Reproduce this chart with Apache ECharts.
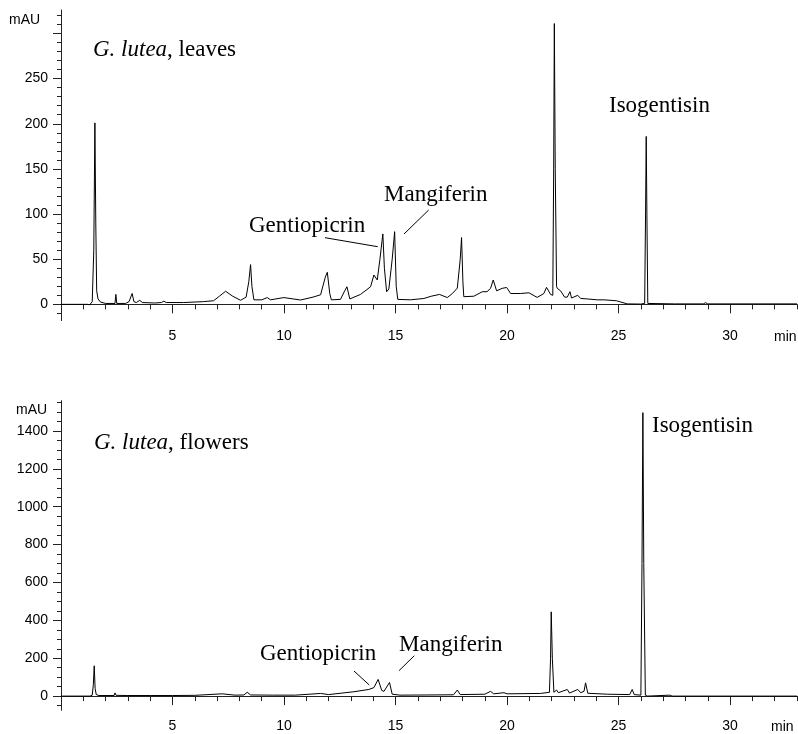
<!DOCTYPE html>
<html>
<head>
<meta charset="utf-8">
<script src="https://cdn.jsdelivr.net/npm/echarts@6/dist/echarts.min.js"></script>
<style>
html, body { margin: 0; padding: 0; background: #fff; }
#chart { width: 798px; height: 734px; }
</style>
</head>
<body>
<div id="chart"></div>
<script>
// retention time (min) and absorbance (mAU)
var leavesTime = [
    0, 1.2, 1.29, 1.40, 1.47, 1.52, 1.56, 1.60, 1.66, 1.77,
    2.0, 2.42, 2.46, 2.50, 2.9, 3.05, 3.19, 3.27, 3.38, 3.53,
    3.65, 4.2, 4.5, 4.61, 4.72, 5.5, 6.39, 6.84, 7.1, 7.38,
    7.7, 8.05, 8.3, 8.42, 8.50, 8.56, 8.65, 9.0, 9.25, 9.39,
    9.99, 10.74, 11.3, 11.64, 11.85, 11.94, 12.05, 12.12, 12.53, 12.72,
    12.82, 12.95, 13.43, 13.88, 14.03, 14.18, 14.30, 14.43, 14.50, 14.60,
    14.70, 14.85, 14.96, 15.03, 15.10, 15.67, 16.27, 16.6, 16.97, 17.32,
    17.55, 17.77, 17.90, 17.96, 18.02, 18.06, 18.51, 18.89, 19.1, 19.26,
    19.38, 19.53, 19.78, 19.98, 20.16, 20.61, 20.98, 21.35, 21.65, 21.77,
    21.95, 22.05, 22.09, 22.12, 22.16, 22.22, 22.25, 22.40, 22.58, 22.70,
    22.82, 22.89, 23.17, 23.30, 23.6, 24.04, 24.34, 24.90, 25.39, 25.99,
    26.17, 26.21, 26.24, 26.27, 26.31, 27.5, 28.8, 28.9, 29.0, 33
];
var leavesMAU = [
    0, 0, -0.5, 3, 60, 201, 90, 15, 6, 2.5,
    1, 1, 11, 1, 1, 3, 12, 3, 2, 4.5,
    2, 1.5, 2, 3.5, 2, 2, 3, 4, 9, 14.5,
    9, 4.5, 8, 25, 44, 20, 5, 5, 7.5, 5,
    7.5, 4.8, 8, 10.6, 30, 35.5, 12, 5, 5.5, 15,
    19.5, 6, 11, 19.5, 32.5, 27, 50, 78, 40, 14,
    17, 50, 80.5, 20, 5.5, 5, 6.5, 9, 11, 7.5,
    12, 18, 50, 74, 25, 8.5, 9, 14, 14, 17.7,
    27, 15, 17.7, 18.7, 12, 12, 12.8, 7.7, 12, 18.8,
    11, 10, 150, 311, 150, 20, 17.7, 15, 8, 8,
    14, 7, 10, 6.5, 6, 5, 5, 4, 0.5, 0.3,
    1, 100, 186, 100, 1, 0.5, 0.5, 1.8, 0.5, 0.5
];

var flowersTime = [
    0, 1.3, 1.40, 1.45, 1.49, 1.53, 1.58, 1.7, 2.38, 2.42,
    2.47, 3.0, 4.0, 5.0, 6.0, 7.23, 7.8, 8.2, 8.35, 8.5,
    9.5, 10.5, 11.64, 12.0, 13.13, 13.80, 14.03, 14.22, 14.38, 14.48,
    14.73, 14.85, 15.2, 16.5, 17.6, 17.77, 17.9, 19.0, 19.26, 19.4,
    19.86, 20.0, 21.5, 21.9, 21.95, 21.98, 22.03, 22.1, 22.22, 22.3,
    22.7, 22.8, 23.17, 23.3, 23.45, 23.52, 23.62, 24.5, 25.5, 25.61,
    25.7, 26.0, 26.05, 26.09, 26.13, 26.20, 26.3, 27.3, 27.4, 33
];
var flowersMAU = [
    0, 0, 5, 60, 160, 40, 8, 3, 3, 17,
    4, 3, 3, 3, 4, 12, 5, 6, 20, 6,
    5, 5, 14, 8, 23, 35, 45, 88, 30, 25,
    72, 10, 5, 6, 7, 32, 8, 10, 25, 12,
    18, 12, 14, 20, 200, 445, 200, 20, 32, 18,
    35, 16, 35, 18, 25, 70, 15, 10, 8, 35,
    8, 5, 700, 1497, 700, 5, 0, 5, 0, 0
];

// axis ticks
var timeMajor = [5, 10, 15, 20, 25, 30];
var timeMinor = [1, 2, 3, 4, 6, 7, 8, 9, 11, 12, 13, 14, 16, 17, 18, 19, 21, 22, 23, 24, 26, 27, 28, 29, 31, 32, 33];
var leavesLabels = [0, 50, 100, 150, 200, 250];
var leavesMajor = [0, 50, 100, 150, 200, 250, 300];
var flowersLabels = [0, 200, 400, 600, 800, 1000, 1200, 1400];

var leavesMinor = [];
for (var v = -10; v <= 320; v += 10) {
    if (v % 50 !== 0) leavesMinor.push(v);
}
var flowersMinor = [];
for (var w = -50; w <= 1550; w += 50) {
    if (w % 200 !== 0) flowersMinor.push(w);
}

function zip(a, b) {
    var out = [];
    for (var i = 0; i < a.length; i++) out.push([a[i], b[i]]);
    return out;
}

var sans = '"Liberation Sans", Arial, sans-serif';
var serif = '"Liberation Serif", "Times New Roman", serif';
var axisColor = '#222';
var plain = function (val) { return String(val); };

function xMajor(grid) {
    return {
        type: 'value', gridIndex: grid, position: 'bottom', min: 0, max: 33,
        axisLine: { lineStyle: { color: axisColor, width: 1 } },
        axisTick: { show: true, length: 9, customValues: timeMajor, lineStyle: { color: axisColor } },
        axisLabel: { customValues: timeMajor, margin: 9, color: '#000', fontSize: 14, fontFamily: sans, formatter: plain },
        splitLine: { show: false }
    };
}
function xMinor(grid) {
    return {
        type: 'value', gridIndex: grid, position: 'bottom', min: 0, max: 33,
        axisLine: { show: false },
        axisTick: { show: true, length: 5, customValues: timeMinor, lineStyle: { color: axisColor } },
        axisLabel: { show: false },
        splitLine: { show: false }
    };
}
function yMajor(grid, min, max, ticks, labels) {
    return {
        type: 'value', gridIndex: grid, position: 'left', min: min, max: max,
        axisLine: { show: true, lineStyle: { color: axisColor, width: 1 } },
        axisTick: { show: true, length: 8, customValues: ticks, lineStyle: { color: axisColor } },
        axisLabel: { customValues: labels, margin: 13, color: '#000', fontSize: 14, fontFamily: sans, formatter: plain },
        splitLine: { show: false }
    };
}
function yMinor(grid, min, max, ticks) {
    return {
        type: 'value', gridIndex: grid, position: 'left', min: min, max: max,
        axisLine: { show: false },
        axisTick: { show: true, length: 4, customValues: ticks, lineStyle: { color: axisColor } },
        axisLabel: { show: false },
        splitLine: { show: false }
    };
}

function label(x, y, text) {
    return {
        type: 'text', x: x, y: y,
        style: { text: text, font: '23px ' + serif, fill: '#000', align: 'left', verticalAlign: 'middle' }
    };
}
function title(x, y, rest) {
    return {
        type: 'text', x: x, y: y,
        style: {
            text: '{i|G. lutea}, ' + rest, font: '23px ' + serif, fill: '#000',
            align: 'left', verticalAlign: 'middle',
            rich: { i: { fontStyle: 'italic', fontSize: 23, fontFamily: serif } }
        }
    };
}
function leader(x1, y1, x2, y2) {
    return {
        type: 'line', shape: { x1: x1, y1: y1, x2: x2, y2: y2 },
        style: { stroke: '#000', lineWidth: 1 }
    };
}
function small(x, y, text) {
    return {
        type: 'text', x: x, y: y,
        style: { text: text, font: '14px ' + sans, fill: '#000', align: 'left', verticalAlign: 'middle' }
    };
}

var chart = echarts.init(document.getElementById('chart'));
var option = {
    animation: false,
    backgroundColor: '#fff',
    grid: [
        { left: 61, right: 1, top: 10, height: 310.6, containLabel: false, outerBoundsMode: 'none' },
        { left: 61, right: 1, top: 400.7, height: 309.6, containLabel: false, outerBoundsMode: 'none' }
    ],
    xAxis: [xMajor(0), xMinor(0), xMajor(1), xMinor(1)],
    yAxis: [
        yMajor(0, -18, 326, leavesMajor, leavesLabels),
        yMinor(0, -18, 326, leavesMinor),
        yMajor(1, -75, 1560, flowersLabels, flowersLabels),
        yMinor(1, -75, 1560, flowersMinor)
    ],
    series: [
        {
            name: 'leaves', type: 'line', xAxisIndex: 0, yAxisIndex: 0,
            data: zip(leavesTime, leavesMAU), showSymbol: false, symbol: 'none',
            lineStyle: { color: '#000', width: 1 }, silent: true
        },
        {
            name: 'flowers', type: 'line', xAxisIndex: 2, yAxisIndex: 2,
            data: zip(flowersTime, flowersMAU), showSymbol: false, symbol: 'none',
            lineStyle: { color: '#000', width: 1 }, silent: true
        }
    ],
    graphic: [
        small(9, 20, 'mAU'),
        small(16, 410, 'mAU'),
        small(774, 337, 'min'),
        small(771, 727, 'min'),
        title(93, 50, 'leaves'),
        title(94, 443, 'flowers'),
        label(609, 106, 'Isogentisin'),
        label(249, 226, 'Gentiopicrin'),
        label(384, 195, 'Mangiferin'),
        leader(325, 237.7, 377.7, 246.7),
        leader(404, 234, 428.7, 210),
        label(652, 426, 'Isogentisin'),
        label(260, 654, 'Gentiopicrin'),
        label(399, 645, 'Mangiferin'),
        leader(354, 671, 369.3, 685),
        leader(399, 670.7, 414.3, 655.7)
    ]
};
chart.setOption(option);
</script>
</body>
</html>
